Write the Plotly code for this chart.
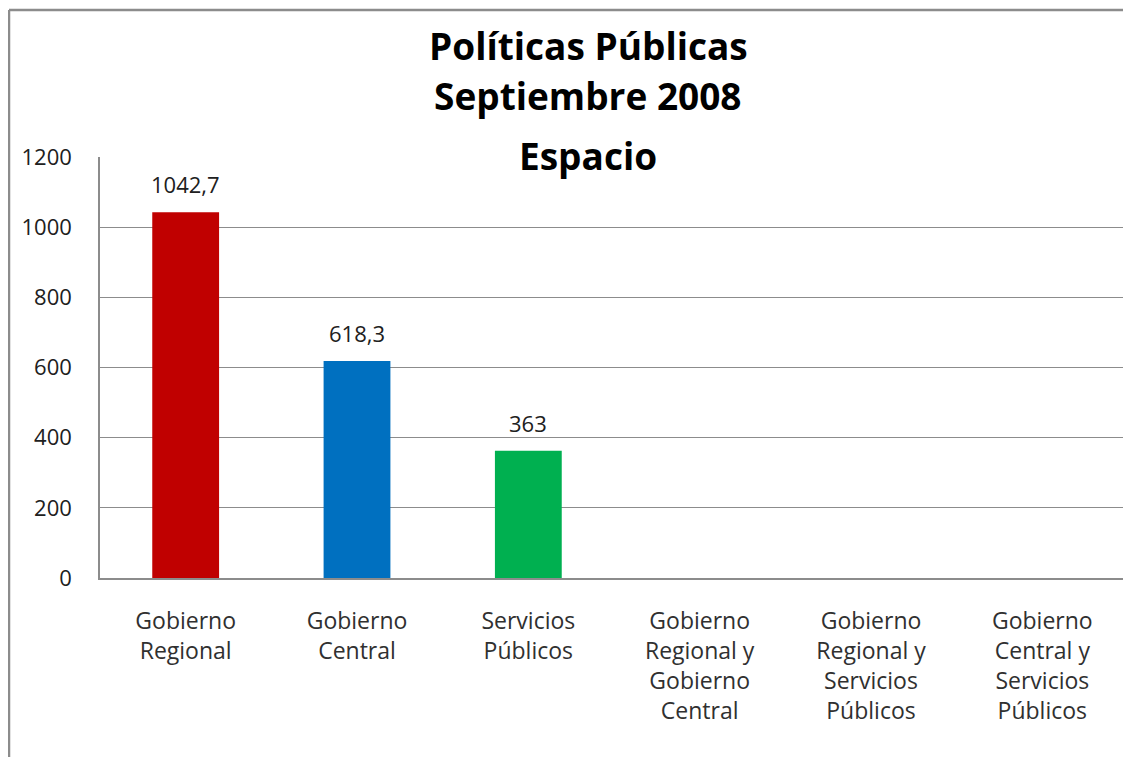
import plotly.graph_objects as go

categories = ["Gobierno<br>Regional", "Gobierno<br>Central", "Servicios<br>Públicos",
              "Gobierno<br>Regional y<br>Gobierno<br>Central",
              "Gobierno<br>Regional y<br>Servicios<br>Públicos",
              "Gobierno<br>Central y<br>Servicios<br>Públicos"]
values = [1042.7, 618.3, 363, None, None, None]
colors = ["#C00000", "#0070C0", "#00B050", "#C00000", "#C00000", "#C00000"]
title_lines = ["Políticas Públicas", "Septiembre 2008", "Espacio"]
y_ticks = [0, 200, 400, 600, 800, 1000, 1200]

labels = [("" if v is None else str(v).replace(".", ",")) for v in values]

W, H = 1131, 757
OFF = 8  # page margin offset
L, R, T, B = 100 - OFF, W - (1128 - OFF), 157 - OFF, H - (578 - OFF)
PW, PH = W - L - R, H - T - B

def px(x):
    return (x - OFF - L) / PW

def py(y):
    return (H - B - (y - OFF)) / PH

fig = go.Figure(go.Bar(
    x=categories, y=values, marker=dict(color=colors, line=dict(width=0)),
    width=0.39, hoverinfo="x+y",
))

for c, v, t in zip(categories, values, labels):
    if v is None:
        continue
    fig.add_annotation(x=c, y=v, text=t, showarrow=False, yanchor="bottom",
                       yshift=11, font=dict(family="Open Sans", size=22, color="#202020"))

fig.update_layout(
    width=W, height=H,
    margin=dict(l=L, r=R, t=T, b=B),
    paper_bgcolor="white", plot_bgcolor="white",
    showlegend=False,
    font=dict(family="Open Sans", size=22, color="#202020"),
    xaxis=dict(showline=True, linecolor="#8c8c8c", linewidth=1.5, ticks="",
               tickfont=dict(size=23, color="#303030"), showgrid=False,
               ticklabelstandoff=22),
    yaxis=dict(range=[0, 1200], tickvals=y_ticks, showline=True, linecolor="#8c8c8c",
               linewidth=1.5, gridcolor="#8c8c8c", gridwidth=1, ticks="", zeroline=False,
               tickfont=dict(size=22, color="#202020"), ticklabelstandoff=22),
)

ys = [45, 96, 155]
for t, yy in zip(title_lines, ys):
    fig.add_annotation(text=f"<b>{t}</b>", xref="paper", yref="paper",
                       x=px(588), y=py(yy), xanchor="center", yanchor="middle",
                       showarrow=False,
                       font=dict(family="Open Sans", size=37, color="black"))

# outer chart border (cropped at right and bottom)
bx = px(OFF + 1)
by = py(10)
fig.add_shape(type="line", xref="paper", yref="paper",
              x0=bx, x1=px(W + OFF), y0=by, y1=by,
              line=dict(color="#8c8c8c", width=2.5))
fig.add_shape(type="line", xref="paper", yref="paper",
              x0=bx, x1=bx, y0=by, y1=py(H + OFF),
              line=dict(color="#8c8c8c", width=2.5))

fig.write_html("out.html")
